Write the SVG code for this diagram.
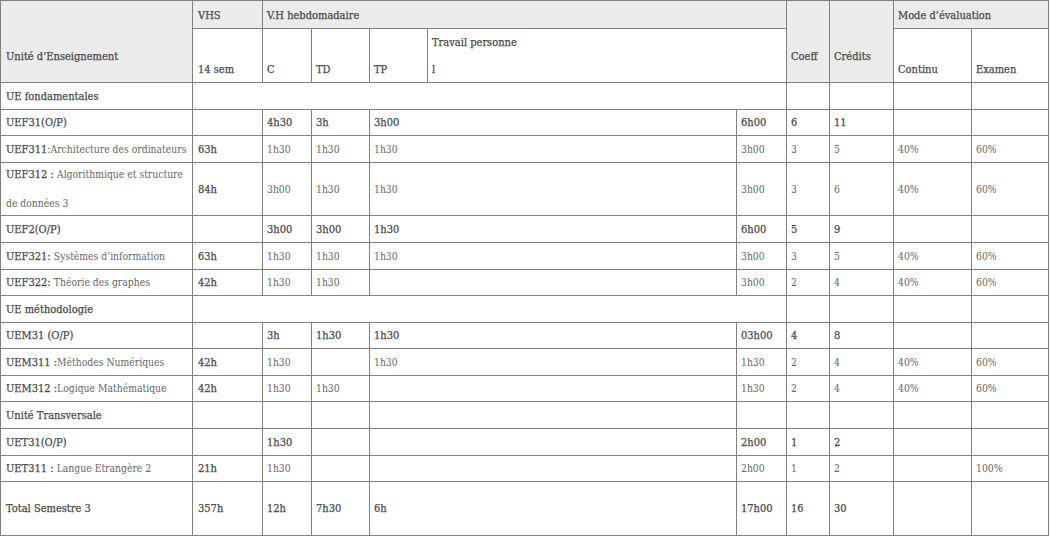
<svg xmlns="http://www.w3.org/2000/svg" width="1050" height="537" viewBox="0 0 1050 537">
<style>
text{font-family:"DejaVu Serif Condensed","DejaVu Serif","Liberation Serif",serif;}
.b{font-size:11px;fill:#4a4a4a;stroke:#4a4a4a;stroke-width:0.25px;}
.l{font-size:10.3px;fill:#666666;stroke:none;}
.hd{fill:#ebebeb;}
.grid{stroke:#808080;stroke-width:1;fill:none;}
</style>
<rect x="0" y="0" width="1050" height="537" fill="#ffffff"/>
<g id="header">
<rect class="hd" x="0.5" y="0.5" width="192" height="82"/>
<rect class="hd" x="192.5" y="0.5" width="594" height="28"/>
<rect class="hd" x="786.5" y="0.5" width="107" height="82"/>
<rect class="hd" x="893.5" y="0.5" width="155" height="28"/>
<text class="b" x="6" y="59.5">Unité d’Enseignement</text>
<text class="b" x="198" y="18.5">VHS</text>
<text class="b" x="267" y="18.5">V.H hebdomadaire</text>
<text class="b" x="898" y="18.5">Mode d’évaluation</text>
<text class="b" x="198" y="73">14 sem</text>
<text class="b" x="267" y="73">C</text>
<text class="b" x="316" y="73">TD</text>
<text class="b" x="374" y="73">TP</text>
<text class="b" x="432" y="46">Travail personne</text>
<text class="b" x="432" y="73">l</text>
<text class="b" x="791" y="59.5">Coeff</text>
<text class="b" x="834" y="59.5">Crédits</text>
<text class="b" x="898" y="73">Continu</text>
<text class="b" x="976" y="73">Examen</text>
</g>
<g id="row-ue-fondamentales">
<text class="b" x="6" y="100">UE fondamentales</text>
</g>
<g id="row-uef31">
<text class="b" x="6" y="126.3">UEF31(O/P)</text>
<text class="b" x="267" y="126.3">4h30</text>
<text class="b" x="316" y="126.3">3h</text>
<text class="b" x="374" y="126.3">3h00</text>
<text class="b" x="741" y="126.3">6h00</text>
<text class="b" x="791" y="126.3">6</text>
<text class="b" x="834" y="126.3">11</text>
</g>
<g id="row-uef311">
<text x="6" y="152.8"><tspan class="b">UEF311</tspan><tspan class="l">:Architecture des ordinateurs</tspan></text>
<text class="b" x="198" y="152.8">63h</text>
<text class="l" x="267" y="152.8">1h30</text>
<text class="l" x="316" y="152.8">1h30</text>
<text class="l" x="374" y="152.8">1h30</text>
<text class="l" x="741" y="152.8">3h00</text>
<text class="l" x="791" y="152.8">3</text>
<text class="l" x="834" y="152.8">5</text>
<text class="l" x="898" y="152.8">40%</text>
<text class="l" x="976" y="152.8">60%</text>
</g>
<g id="row-uef312">
<text x="6" y="178.3"><tspan class="b">UEF312 : </tspan><tspan class="l">Algorithmique et structure</tspan></text>
<text class="l" x="6" y="207.3">de données 3</text>
<text class="b" x="198" y="192.8">84h</text>
<text class="l" x="267" y="192.8">3h00</text>
<text class="l" x="316" y="192.8">1h30</text>
<text class="l" x="374" y="192.8">1h30</text>
<text class="l" x="741" y="192.8">3h00</text>
<text class="l" x="791" y="192.8">3</text>
<text class="l" x="834" y="192.8">6</text>
<text class="l" x="898" y="192.8">40%</text>
<text class="l" x="976" y="192.8">60%</text>
</g>
<g id="row-uef2">
<text class="b" x="6" y="232.8">UEF2(O/P)</text>
<text class="b" x="267" y="232.8">3h00</text>
<text class="b" x="316" y="232.8">3h00</text>
<text class="b" x="374" y="232.8">1h30</text>
<text class="b" x="741" y="232.8">6h00</text>
<text class="b" x="791" y="232.8">5</text>
<text class="b" x="834" y="232.8">9</text>
</g>
<g id="row-uef321">
<text x="6" y="259.8"><tspan class="b">UEF321: </tspan><tspan class="l">Systèmes d’information</tspan></text>
<text class="b" x="198" y="259.8">63h</text>
<text class="l" x="267" y="259.8">1h30</text>
<text class="l" x="316" y="259.8">1h30</text>
<text class="l" x="374" y="259.8">1h30</text>
<text class="l" x="741" y="259.8">3h00</text>
<text class="l" x="791" y="259.8">3</text>
<text class="l" x="834" y="259.8">5</text>
<text class="l" x="898" y="259.8">40%</text>
<text class="l" x="976" y="259.8">60%</text>
</g>
<g id="row-uef322">
<text x="6" y="286.3"><tspan class="b">UEF322: </tspan><tspan class="l">Théorie des graphes</tspan></text>
<text class="b" x="198" y="286.3">42h</text>
<text class="l" x="267" y="286.3">1h30</text>
<text class="l" x="316" y="286.3">1h30</text>
<text class="l" x="741" y="286.3">3h00</text>
<text class="l" x="791" y="286.3">2</text>
<text class="l" x="834" y="286.3">4</text>
<text class="l" x="898" y="286.3">40%</text>
<text class="l" x="976" y="286.3">60%</text>
</g>
<g id="row-ue-methodologie">
<text class="b" x="6" y="312.8">UE méthodologie</text>
</g>
<g id="row-uem31">
<text class="b" x="6" y="339.3">UEM31 (O/P)</text>
<text class="b" x="267" y="339.3">3h</text>
<text class="b" x="316" y="339.3">1h30</text>
<text class="b" x="374" y="339.3">1h30</text>
<text class="b" x="741" y="339.3">03h00</text>
<text class="b" x="791" y="339.3">4</text>
<text class="b" x="834" y="339.3">8</text>
</g>
<g id="row-uem311">
<text x="6" y="365.8"><tspan class="b">UEM311 :</tspan><tspan class="l">Méthodes Numériques</tspan></text>
<text class="b" x="198" y="365.8">42h</text>
<text class="l" x="267" y="365.8">1h30</text>
<text class="l" x="374" y="365.8">1h30</text>
<text class="l" x="741" y="365.8">1h30</text>
<text class="l" x="791" y="365.8">2</text>
<text class="l" x="834" y="365.8">4</text>
<text class="l" x="898" y="365.8">40%</text>
<text class="l" x="976" y="365.8">60%</text>
</g>
<g id="row-uem312">
<text x="6" y="392.3"><tspan class="b">UEM312 :</tspan><tspan class="l">Logique Mathématique</tspan></text>
<text class="b" x="198" y="392.3">42h</text>
<text class="l" x="267" y="392.3">1h30</text>
<text class="l" x="316" y="392.3">1h30</text>
<text class="l" x="741" y="392.3">1h30</text>
<text class="l" x="791" y="392.3">2</text>
<text class="l" x="834" y="392.3">4</text>
<text class="l" x="898" y="392.3">40%</text>
<text class="l" x="976" y="392.3">60%</text>
</g>
<g id="row-unite-transversale">
<text class="b" x="6" y="418.8">Unité Transversale</text>
</g>
<g id="row-uet31">
<text class="b" x="6" y="445.8">UET31(O/P)</text>
<text class="b" x="267" y="445.8">1h30</text>
<text class="b" x="741" y="445.8">2h00</text>
<text class="b" x="791" y="445.8">1</text>
<text class="b" x="834" y="445.8">2</text>
</g>
<g id="row-uet311">
<text x="6" y="472.3"><tspan class="b">UET311 : </tspan><tspan class="l">Langue Etrangère 2</tspan></text>
<text class="b" x="198" y="472.3">21h</text>
<text class="l" x="267" y="472.3">1h30</text>
<text class="l" x="741" y="472.3">2h00</text>
<text class="l" x="791" y="472.3">1</text>
<text class="l" x="834" y="472.3">2</text>
<text class="l" x="976" y="472.3">100%</text>
</g>
<g id="row-total">
<text class="b" x="6" y="512.3">Total Semestre 3</text>
<text class="b" x="198" y="512.3">357h</text>
<text class="b" x="267" y="512.3">12h</text>
<text class="b" x="316" y="512.3">7h30</text>
<text class="b" x="374" y="512.3">6h</text>
<text class="b" x="741" y="512.3">17h00</text>
<text class="b" x="791" y="512.3">16</text>
<text class="b" x="834" y="512.3">30</text>
</g>
<g id="connectors" class="grid">
<rect x="0.5" y="0.5" width="1048" height="535"/>
<path d="M192.5 28.5H786.5M893.5 28.5H1048.5"/>
<path d="M0.5 82.5H1048.5M0.5 109.5H1048.5M0.5 135.5H1048.5M0.5 162.5H1048.5M0.5 215.5H1048.5M0.5 242.5H1048.5M0.5 269.5H1048.5M0.5 295.5H1048.5M0.5 322.5H1048.5M0.5 348.5H1048.5M0.5 375.5H1048.5M0.5 401.5H1048.5M0.5 428.5H1048.5M0.5 455.5H1048.5M0.5 481.5H1048.5"/>
<path d="M192.5 0.5V535.5M786.5 0.5V535.5M829.5 0.5V535.5M893.5 0.5V535.5M971.5 28.5V535.5"/>
<path d="M262.5 0.5V82.5M262.5 109.5V295.5M262.5 322.5V535.5"/>
<path d="M311.5 28.5V82.5M311.5 109.5V295.5M311.5 322.5V535.5"/>
<path d="M369.5 28.5V82.5M369.5 109.5V295.5M369.5 322.5V535.5"/>
<path d="M427.5 28.5V82.5"/>
<path d="M736.5 109.5V295.5M736.5 322.5V535.5"/>
</g>
</svg>
